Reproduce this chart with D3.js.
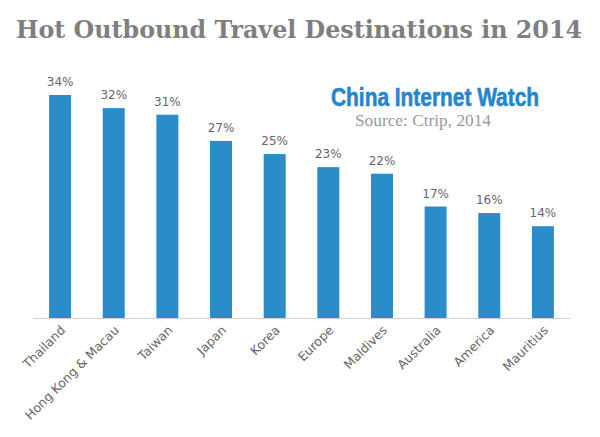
<!DOCTYPE html>
<html><head><meta charset="utf-8">
<script src="https://cdn.jsdelivr.net/npm/d3@7"></script>
<style>body{margin:0;background:#fff}svg{display:block}</style>
</head><body>
<svg id="c" width="600" height="437"></svg>
<script>
const categories = ["Thailand","Hong Kong & Macau","Taiwan","Japan","Korea","Europe","Maldives","Australia","America","Mauritius"];
const values = [34,32,31,27,25,23,22,17,16,14];
const title = "Hot Outbound Travel Destinations in 2014";
const brand = "China Internet Watch";
const source = "Source: Ctrip, 2014";

const svg = d3.select("#c");
const x = d3.scaleBand().domain(categories).range([33,570]).paddingInner(0.59).paddingOuter(0.3);
const y = d3.scaleLinear().domain([0,34]).range([318,95]);

svg.append("text").attr("x",299).attr("y",38).attr("text-anchor","middle")
  .attr("font-family","DejaVu Serif").attr("font-weight","bold").attr("font-size",23.5)
  .attr("fill","#7f7f7f").attr("textLength",566).attr("lengthAdjust","spacingAndGlyphs").text(title);

svg.append("text").attr("x",435).attr("y",105.5).attr("text-anchor","middle")
  .attr("font-family","Liberation Sans Narrow, Liberation Sans").attr("font-weight","bold").attr("font-size",25)
  .attr("fill","#2586cc").attr("stroke","#2586cc").attr("stroke-width",0.6)
  .attr("textLength",208).attr("lengthAdjust","spacingAndGlyphs").text(brand);

svg.append("text").attr("x",423).attr("y",126).attr("text-anchor","middle")
  .attr("font-family","Liberation Serif").attr("font-size",16)
  .attr("fill","#9a9a9a").attr("textLength",136).attr("lengthAdjust","spacingAndGlyphs").text(source);

const data = categories.map((c,i)=>({c,v:values[i]}));

svg.selectAll("rect.bar").data(data).join("rect").attr("class","bar")
  .attr("x",d=>x(d.c)).attr("width",x.bandwidth())
  .attr("y",d=>y(d.v)).attr("height",d=>y(0)-y(d.v))
  .attr("fill","#2a8dc9");

svg.selectAll("text.val").data(data).join("text").attr("class","val")
  .attr("x",d=>x(d.c)+x.bandwidth()/2).attr("y",d=>y(d.v)-9)
  .attr("text-anchor","middle").attr("font-family","'DejaVu Sans'").attr("font-size",12)
  .attr("fill","#666").text(d=>d.v+"%");

const ax = svg.append("g").attr("transform","translate(0,318)")
  .call(d3.axisBottom(x).tickSize(0).tickSizeOuter(0).tickPadding(0));
ax.select(".domain").attr("stroke","#d0d0d0").attr("stroke-width",1.2);
ax.selectAll(".tick text")
  .attr("font-family","'DejaVu Sans'").attr("font-size",12.5).attr("fill","#666")
  .attr("text-anchor","end").attr("dy",0)
  .attr("transform","translate(6,13) rotate(-45)");
</script>
</body></html>
